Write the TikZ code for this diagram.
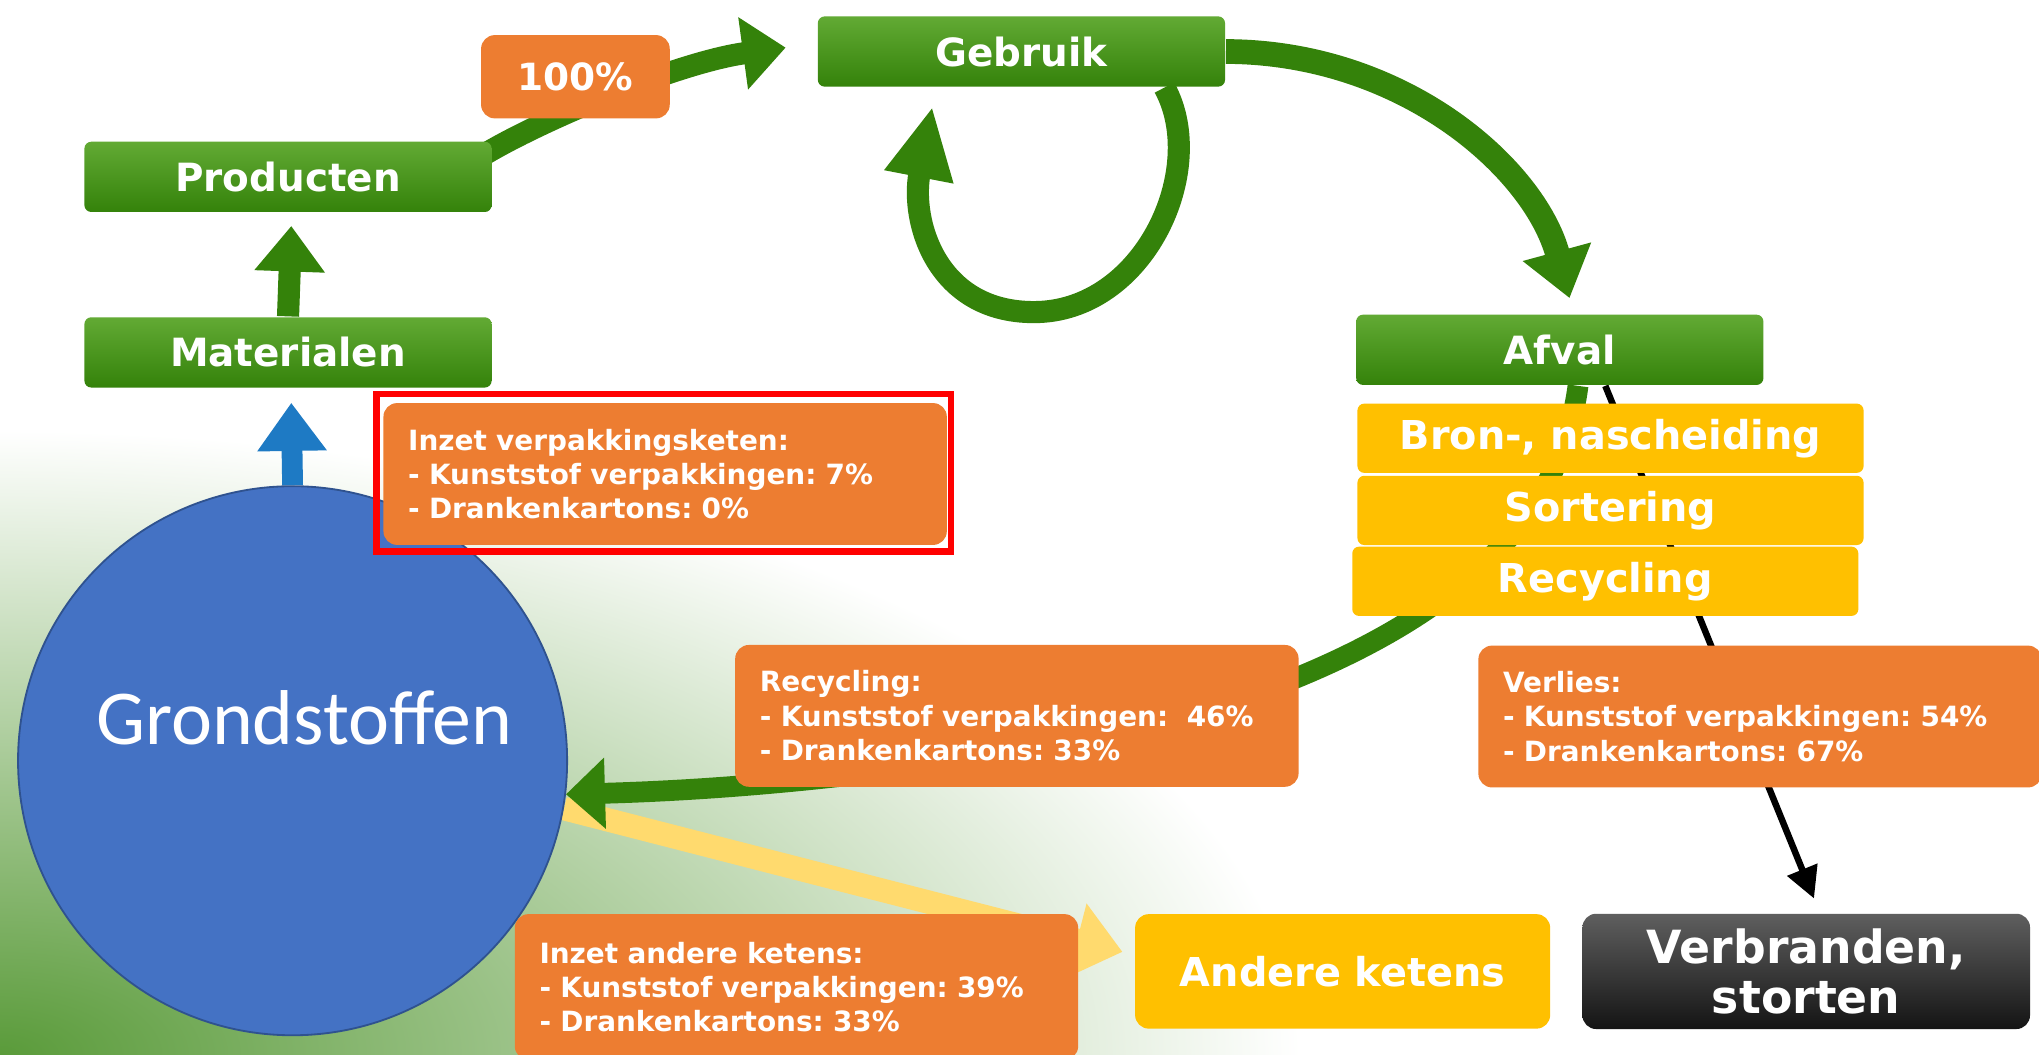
\documentclass[tikz,border=0pt]{standalone}
\usepackage{fontspec}
\setmainfont{DejaVu Sans}
\newfontfamily\grondfont{Carlito}
\usetikzlibrary{arrows.meta,calc}
\frenchspacing

\definecolor{grn}{RGB}{52,130,10}
\definecolor{grnlt}{RGB}{98,170,52}
\definecolor{oranje}{RGB}{237,125,49}
\definecolor{geel}{RGB}{255,192,0}
\definecolor{lichtgeel}{RGB}{255,218,110}
\definecolor{blauw}{RGB}{68,114,196}
\definecolor{blauwrand}{RGB}{47,82,143}
\definecolor{pijlblauw}{RGB}{30,122,196}
\definecolor{donker}{RGB}{20,20,20}
\definecolor{grijs}{RGB}{95,95,95}
\definecolor{bggrn}{RGB}{90,155,58}

\pgfdeclarelayer{bg}
\pgfdeclarelayer{back}
\pgfsetlayers{bg,back,main}

\begin{document}
\begin{tikzpicture}
  [x=0.01cm,y=-0.01cm]
      \tikzstyle{green_box} = [top color=grnlt, middle color=grn, bottom color=grn, rounded corners=1.5pt, minimum width=3.13cm, minimum height=0.54cm, text=white, font=\bfseries\fontsize{8.5}{10}\selectfont]
      \tikzstyle{yellow_box} = [fill=geel, rounded corners=1.5pt, minimum width=3.89cm, minimum height=0.47cm, text=white, font=\bfseries\fontsize{8.7}{10}\selectfont]
      \tikzstyle{orange_box} = [fill=oranje, rounded corners=3pt, text width=3.95cm, inner xsep=0.19cm, minimum height=1.09cm, align=left, text=white, font=\bfseries\fontsize{6.1}{7.5}\selectfont]
      \tikzstyle{green_arrow} = [draw=grn, line width=0.17cm]
  \useasboundingbox (0,0) rectangle (1568,811);
  \node[green_box] (geb) at (785.5,39.6) {Gebruik};
  \node[green_box] (prod) at (221.5,136) {Producten};
  \node[green_box] (mat) at (221.5,271) {Materialen};
  \node[green_box] (afval) at (1199.5,269) {Afval};
  \node[fill=oranje, rounded corners=3pt, minimum width=1.45cm, minimum height=0.64cm, text=white, font=\bfseries\fontsize{8.2}{10}\selectfont] (pct) at (442.5,59) {100\%};
  \node[circle, fill=blauw, draw=blauwrand, minimum size=4.22cm] (grond) at (225,585) {};
  \node[text=white, font=\grondfont\fontsize{17}{18}\selectfont] (grondlabel) at ($(grond.center)+(9,-33)$) {Grondstoffen};
  \node[orange_box] (inzet) at (511.5,364.5) {Inzet verpakkingsketen:\\- Kunststof verpakkingen: 7\%\\- Drankenkartons: 0\%};
  \node[orange_box] (recy) at (782,550.5) {Recycling:\\- Kunststof verpakkingen:~ 46\%\\- Drankenkartons: 33\%};
  \node[orange_box] (verl) at (1353.5,551) {Verlies:\\- Kunststof verpakkingen: 54\%\\- Drankenkartons: 67\%};
  \node[orange_box, minimum height=1.12cm] (andinzet) at (612.5,759) {Inzet andere ketens:\\- Kunststof verpakkingen: 39\%\\- Drankenkartons: 33\%};
  \node[yellow_box] (bron) at (1238.5,337) {Bron-, nascheiding};
  \node[yellow_box] (sort) at (1238.5,392.5) {Sortering};
  \node[yellow_box] (recbox) at (1234.5,447) {Recycling};
  \node[fill=geel, rounded corners=3pt, minimum width=3.19cm, minimum height=0.88cm, text=white, font=\bfseries\fontsize{8.7}{10}\selectfont] (andere) at (1032.5,747) {Andere ketens};
  \node[top color=grijs, bottom color=donker, rounded corners=3pt, minimum width=3.44cm, minimum height=0.88cm, align=center, text=white, font=\bfseries\fontsize{10}{10.8}\selectfont] (verbr) at (1389,747) {Verbranden,\\storten};
  \draw[red, line width=1.4pt] ($(inzet.north west)+(-4.5,-6.5)$) rectangle ($(inzet.south east)+(2.5,4.5)$);
  % achtergrond
  \begin{pgfonlayer}{bg}
    \fill[white] (0,0) rectangle (1568,811);
    \clip (0,0) rectangle (1568,811);
    \shade[inner color=bggrn, outer color=white] (0,811) ellipse [x radius=1000, y radius=480];
  \end{pgfonlayer}
  % pijlen
  \begin{pgfonlayer}{back}
    \draw[draw=lichtgeel, line width=0.18cm, -{Triangle[length=0.36cm, width=0.56cm]}] (grond.-10) -- ($(andere.west)+(-9,-15)$);
    \draw[draw=pijlblauw, line width=0.16cm, -{Triangle[length=0.37cm, width=0.51cm]}] (grond.north) -- ($(mat.south)+(2.5,11)$);
    \draw[green_arrow, -{Triangle[length=0.35cm, width=0.52cm]}] (mat.north) -- ($(prod.south)+(2.5,10)$);
    \draw[green_arrow, -{Triangle[length=0.33cm, width=0.54cm]}] ($(prod.east)+(-10,-15)$) .. controls (410,95) and (520,48) .. ($(geb.west)+(-24,-3)$);
    \draw[green_arrow, line width=0.19cm, -{Triangle[length=0.37cm, width=0.52cm]}] (geb.east) .. controls (1080,40) and (1180,130) .. ($(afval.north)+(7.5,-12)$);
    \draw[green_arrow, -{Triangle[length=0.55cm, width=0.5cm]}] ($(geb.south)+(110,0)$) .. controls (930,130) and (880,240) .. (795,240) .. controls (720,240) and (700,170) .. (717,82);
    \draw[green_arrow, line width=0.16cm, -{Triangle[length=0.3cm, width=0.53cm]}] ($(afval.south)+(14,0)$) .. controls (1200,400) and (1120,470) .. (1000,520) .. controls (880,570) and (650,605) .. (grond.-7);
    \draw[draw=black, line width=0.05cm, -{Triangle[length=0.24cm, width=0.24cm]}] ($(afval.south)+(35,0)$) -- ($(verbr.north)+(6,-11)$);
  \end{pgfonlayer}
\end{tikzpicture}
\end{document}
